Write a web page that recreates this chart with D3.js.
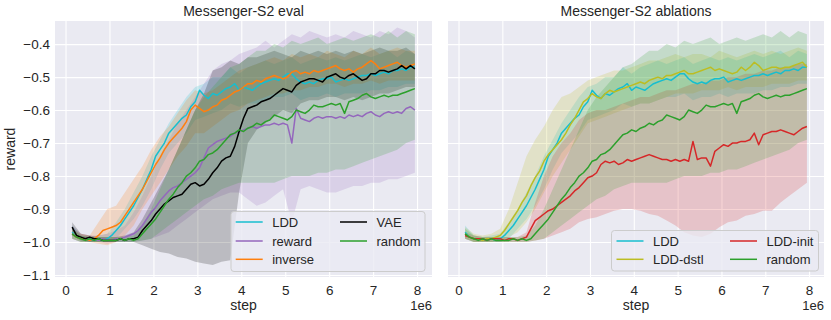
<!DOCTYPE html>
<html lang="en">
<head>
<meta charset="UTF-8">
<title>Messenger-S2</title>
<style>
  body { margin: 0; background: #fff; }
  svg text { font-family: "Liberation Sans", Arial, sans-serif; fill: #262626; }
</style>
</head>
<body>
<svg width="831" height="320"></svg>
<script src="https://d3js.org/d3.v7.min.js"></script>
<script>
// x positions (steps, in 1e6) for mean lines and for the shaded bands
var stepsLine = [0.15,0.25,0.35,0.45,0.55,0.65,0.75,0.85,0.95,1.05,
  1.15,1.25,1.35,1.45,1.55,1.65,1.75,1.85,1.95,2.05,
  2.15,2.25,2.35,2.45,2.55,2.65,2.75,2.85,2.95,3.05,
  3.15,3.25,3.35,3.45,3.55,3.65,3.75,3.85,3.95,4.05,
  4.15,4.25,4.35,4.45,4.55,4.65,4.75,4.85,4.95,5.05,
  5.15,5.25,5.35,5.45,5.55,5.65,5.75,5.85,5.95,6.05,
  6.15,6.25,6.35,6.45,6.55,6.65,6.75,6.85,6.95,7.05,
  7.15,7.25,7.35,7.45,7.55,7.65,7.75,7.85,7.95];
var stepsBand = [0.15,0.35,0.55,0.75,0.95,1.15,1.35,1.55,1.75,1.95,
  2.15,2.35,2.55,2.75,2.95,3.15,3.35,3.55,3.75,3.95,
  4.15,4.35,4.55,4.75,4.95,5.15,5.35,5.55,5.75,5.95,
  6.15,6.35,6.55,6.75,6.95,7.15,7.35,7.55,7.75,7.95];

var xTicks = [0,1,2,3,4,5,6,7,8];
var yTicks = [-1.1,-1.0,-0.9,-0.8,-0.7,-0.6,-0.5,-0.4];

// mean rewards
var lddMean = [-0.97,-0.985,-0.99,-0.99,-0.99,-0.995,-0.99,-0.995,-0.99,-0.98,
  -0.965,-0.95,-0.93,-0.91,-0.89,-0.865,-0.84,-0.81,-0.78,-0.74,
  -0.72,-0.70,-0.67,-0.655,-0.64,-0.625,-0.615,-0.59,-0.575,-0.54,
  -0.555,-0.565,-0.55,-0.555,-0.545,-0.535,-0.53,-0.52,-0.54,-0.53,
  -0.535,-0.54,-0.53,-0.52,-0.515,-0.51,-0.505,-0.51,-0.5,-0.49,
  -0.49,-0.505,-0.515,-0.52,-0.515,-0.52,-0.51,-0.505,-0.505,-0.5,
  -0.515,-0.51,-0.505,-0.51,-0.505,-0.5,-0.495,-0.495,-0.49,-0.495,
  -0.49,-0.485,-0.49,-0.48,-0.48,-0.475,-0.48,-0.47,-0.47];
var rewardMean = [-0.975,-0.985,-0.99,-0.99,-0.995,-0.99,-0.995,-0.99,-0.995,-0.995,
  -0.99,-0.99,-0.985,-0.98,-0.975,-0.965,-0.95,-0.93,-0.91,-0.895,
  -0.875,-0.86,-0.845,-0.835,-0.83,-0.82,-0.81,-0.8,-0.79,-0.775,
  -0.745,-0.715,-0.705,-0.695,-0.69,-0.685,-0.68,-0.67,-0.665,-0.66,
  -0.655,-0.65,-0.655,-0.65,-0.645,-0.645,-0.64,-0.645,-0.64,-0.645,
  -0.7,-0.595,-0.625,-0.63,-0.635,-0.625,-0.62,-0.625,-0.62,-0.62,
  -0.625,-0.62,-0.625,-0.615,-0.62,-0.615,-0.62,-0.61,-0.605,-0.615,
  -0.62,-0.61,-0.605,-0.61,-0.605,-0.61,-0.595,-0.59,-0.6];
var inverseMean = [-0.975,-0.985,-0.99,-0.99,-0.995,-0.99,-0.98,-0.965,-0.96,-0.955,
  -0.95,-0.94,-0.92,-0.9,-0.88,-0.86,-0.84,-0.815,-0.79,-0.765,
  -0.745,-0.72,-0.70,-0.685,-0.67,-0.655,-0.635,-0.6,-0.585,-0.595,
  -0.605,-0.6,-0.59,-0.585,-0.57,-0.565,-0.555,-0.545,-0.54,-0.53,
  -0.52,-0.52,-0.51,-0.515,-0.505,-0.5,-0.495,-0.5,-0.505,-0.5,
  -0.485,-0.48,-0.49,-0.485,-0.49,-0.48,-0.485,-0.48,-0.475,-0.47,
  -0.465,-0.475,-0.48,-0.475,-0.485,-0.475,-0.47,-0.46,-0.45,-0.46,
  -0.475,-0.47,-0.465,-0.46,-0.455,-0.465,-0.47,-0.465,-0.46];
var vaeMean = [-0.955,-0.98,-0.985,-0.99,-0.985,-0.99,-0.99,-0.995,-0.995,-0.995,
  -0.995,-0.99,-0.995,-0.99,-0.99,-0.985,-0.965,-0.95,-0.935,-0.915,
  -0.9,-0.885,-0.875,-0.865,-0.86,-0.855,-0.84,-0.825,-0.82,-0.83,
  -0.825,-0.81,-0.79,-0.775,-0.755,-0.745,-0.74,-0.71,-0.665,-0.625,
  -0.595,-0.59,-0.585,-0.575,-0.57,-0.565,-0.555,-0.545,-0.535,-0.54,
  -0.545,-0.525,-0.515,-0.51,-0.505,-0.505,-0.51,-0.515,-0.5,-0.495,
  -0.49,-0.5,-0.505,-0.495,-0.49,-0.5,-0.51,-0.505,-0.49,-0.49,
  -0.48,-0.48,-0.485,-0.48,-0.475,-0.465,-0.475,-0.465,-0.475];
var randomMean = [-0.975,-0.985,-0.99,-0.995,-0.99,-0.995,-0.99,-0.995,-0.995,-0.995,
  -0.995,-0.99,-0.995,-0.99,-0.995,-0.99,-0.975,-0.96,-0.945,-0.93,
  -0.91,-0.89,-0.87,-0.855,-0.835,-0.82,-0.8,-0.79,-0.775,-0.755,
  -0.75,-0.735,-0.73,-0.72,-0.705,-0.69,-0.675,-0.67,-0.66,-0.665,
  -0.655,-0.65,-0.64,-0.645,-0.635,-0.63,-0.615,-0.62,-0.625,-0.63,
  -0.62,-0.6,-0.605,-0.61,-0.6,-0.585,-0.59,-0.59,-0.585,-0.58,
  -0.585,-0.58,-0.61,-0.575,-0.57,-0.565,-0.555,-0.55,-0.56,-0.565,
  -0.56,-0.555,-0.56,-0.555,-0.555,-0.55,-0.545,-0.54,-0.535];
var dstlMean = [-0.975,-0.985,-0.99,-0.99,-0.995,-0.99,-0.99,-0.985,-0.98,-0.965,
  -0.945,-0.925,-0.905,-0.88,-0.86,-0.83,-0.805,-0.785,-0.755,-0.735,
  -0.72,-0.705,-0.69,-0.67,-0.645,-0.625,-0.6,-0.575,-0.565,-0.55,
  -0.56,-0.565,-0.55,-0.54,-0.545,-0.54,-0.535,-0.53,-0.525,-0.52,
  -0.515,-0.52,-0.51,-0.505,-0.5,-0.505,-0.495,-0.495,-0.49,-0.485,
  -0.48,-0.49,-0.49,-0.485,-0.48,-0.475,-0.47,-0.48,-0.475,-0.48,
  -0.485,-0.49,-0.485,-0.47,-0.48,-0.47,-0.455,-0.465,-0.48,-0.475,
  -0.47,-0.47,-0.475,-0.47,-0.47,-0.465,-0.46,-0.455,-0.47];
var initMean = [-0.98,-0.985,-0.99,-0.99,-0.99,-0.995,-0.99,-0.99,-0.99,-0.995,
  -0.99,-0.99,-0.995,-0.99,-0.985,-0.96,-0.935,-0.925,-0.915,-0.905,
  -0.9,-0.89,-0.88,-0.87,-0.86,-0.845,-0.835,-0.82,-0.805,-0.8,
  -0.79,-0.765,-0.755,-0.76,-0.755,-0.765,-0.76,-0.75,-0.755,-0.75,
  -0.745,-0.74,-0.735,-0.74,-0.745,-0.75,-0.75,-0.755,-0.75,-0.755,
  -0.75,-0.755,-0.695,-0.75,-0.745,-0.745,-0.77,-0.725,-0.715,-0.705,
  -0.71,-0.7,-0.7,-0.695,-0.695,-0.69,-0.67,-0.705,-0.675,-0.67,
  -0.665,-0.665,-0.66,-0.665,-0.67,-0.675,-0.665,-0.655,-0.65];

// band edges (on stepsBand)
var lddHi = [-0.95,-0.98,-0.985,-0.98,-0.975,-0.94,-0.9,-0.85,-0.8,-0.74,
  -0.69,-0.64,-0.6,-0.56,-0.53,-0.52,-0.5,-0.5,-0.47,-0.49,
  -0.47,-0.46,-0.45,-0.46,-0.45,-0.44,-0.46,-0.45,-0.44,-0.45,
  -0.44,-0.45,-0.44,-0.43,-0.44,-0.43,-0.42,-0.44,-0.42,-0.43];
var lddLo = [-0.99,-1.0,-1.0,-1.0,-1.0,-0.99,-0.96,-0.93,-0.89,-0.84,
  -0.78,-0.73,-0.7,-0.67,-0.63,-0.62,-0.61,-0.6,-0.58,-0.59,
  -0.58,-0.58,-0.57,-0.56,-0.56,-0.55,-0.57,-0.56,-0.56,-0.55,
  -0.56,-0.55,-0.55,-0.55,-0.54,-0.54,-0.53,-0.53,-0.52,-0.52];
var rewardHi = [-0.95,-0.975,-0.98,-0.98,-0.975,-0.965,-0.95,-0.91,-0.86,-0.8,
  -0.74,-0.69,-0.64,-0.6,-0.56,-0.52,-0.48,-0.46,-0.45,-0.43,
  -0.42,-0.41,-0.39,-0.41,-0.39,-0.37,-0.38,-0.36,-0.37,-0.38,
  -0.37,-0.38,-0.36,-0.37,-0.38,-0.36,-0.37,-0.35,-0.36,-0.38];
var rewardLo = [-0.99,-1.0,-1.0,-1.0,-1.005,-1.0,-1.0,-1.0,-0.995,-0.99,
  -0.98,-0.97,-0.95,-0.93,-0.91,-0.89,-0.87,-0.86,-0.85,-0.85,
  -0.87,-0.89,-0.88,-0.86,-0.84,-0.94,-0.84,-0.83,-0.84,-0.85,
  -0.85,-0.84,-0.83,-0.83,-0.82,-0.82,-0.81,-0.81,-0.8,-0.79];
var inverseHi = [-0.96,-0.975,-0.98,-0.94,-0.9,-0.89,-0.85,-0.81,-0.77,-0.72,
  -0.68,-0.65,-0.61,-0.57,-0.54,-0.55,-0.54,-0.52,-0.5,-0.48,
  -0.47,-0.46,-0.45,-0.44,-0.45,-0.43,-0.44,-0.43,-0.44,-0.42,
  -0.43,-0.44,-0.42,-0.43,-0.41,-0.43,-0.42,-0.41,-0.42,-0.42];
var inverseLo = [-0.99,-1.0,-1.0,-1.005,-1.01,-1.0,-0.98,-0.95,-0.9,-0.86,
  -0.82,-0.78,-0.74,-0.71,-0.67,-0.67,-0.65,-0.63,-0.61,-0.6,
  -0.58,-0.57,-0.56,-0.55,-0.55,-0.54,-0.54,-0.53,-0.53,-0.52,
  -0.52,-0.53,-0.52,-0.52,-0.51,-0.52,-0.51,-0.51,-0.51,-0.51];
var vaeHi = [-0.94,-0.975,-0.98,-0.985,-0.985,-0.985,-0.98,-0.97,-0.93,-0.88,
  -0.83,-0.78,-0.72,-0.66,-0.6,-0.55,-0.48,-0.47,-0.45,-0.46,
  -0.44,-0.44,-0.43,-0.42,-0.43,-0.44,-0.42,-0.43,-0.42,-0.43,
  -0.42,-0.43,-0.42,-0.43,-0.42,-0.41,-0.42,-0.42,-0.41,-0.43];
var vaeLo = [-0.98,-0.995,-1.0,-1.0,-1.0,-1.0,-1.0,-1.0,-1.01,-1.02,
  -1.03,-1.035,-1.045,-1.05,-1.06,-1.065,-1.07,-1.06,-1.055,-0.85,
  -0.7,-0.66,-0.64,-0.62,-0.6,-0.61,-0.58,-0.57,-0.57,-0.56,
  -0.56,-0.57,-0.56,-0.57,-0.56,-0.55,-0.55,-0.54,-0.53,-0.53];
var randomHi = [-0.96,-0.98,-0.985,-0.985,-0.985,-0.985,-0.985,-0.98,-0.95,-0.9,
  -0.84,-0.78,-0.72,-0.66,-0.6,-0.56,-0.53,-0.5,-0.47,-0.46,
  -0.44,-0.42,-0.42,-0.4,-0.41,-0.39,-0.4,-0.39,-0.38,-0.4,
  -0.39,-0.38,-0.39,-0.38,-0.37,-0.38,-0.36,-0.38,-0.36,-0.37];
var randomLo = [-0.99,-1.0,-1.0,-1.0,-1.0,-1.0,-1.0,-1.0,-0.995,-0.99,
  -0.97,-0.95,-0.93,-0.91,-0.89,-0.87,-0.86,-0.84,-0.83,-0.82,
  -0.82,-0.82,-0.82,-0.82,-0.81,-0.8,-0.8,-0.8,-0.79,-0.79,
  -0.78,-0.78,-0.77,-0.76,-0.75,-0.74,-0.73,-0.72,-0.7,-0.69];
var dstlHi = [-0.955,-0.975,-0.98,-0.975,-0.96,-0.9,-0.82,-0.74,-0.69,-0.65,
  -0.6,-0.56,-0.55,-0.53,-0.51,-0.5,-0.49,-0.48,-0.48,-0.47,
  -0.46,-0.45,-0.45,-0.44,-0.43,-0.44,-0.43,-0.43,-0.44,-0.42,
  -0.43,-0.44,-0.43,-0.42,-0.43,-0.42,-0.43,-0.42,-0.41,-0.42];
var dstlLo = [-0.99,-1.0,-1.0,-1.0,-0.995,-0.985,-0.97,-0.94,-0.9,-0.85,
  -0.8,-0.76,-0.72,-0.68,-0.64,-0.63,-0.62,-0.61,-0.6,-0.59,
  -0.58,-0.58,-0.57,-0.56,-0.55,-0.55,-0.55,-0.54,-0.54,-0.54,
  -0.53,-0.54,-0.53,-0.53,-0.53,-0.52,-0.52,-0.52,-0.51,-0.51];
var initHi = [-0.97,-0.98,-0.985,-0.985,-0.985,-0.985,-0.985,-0.97,-0.88,-0.8,
  -0.74,-0.7,-0.67,-0.63,-0.61,-0.6,-0.6,-0.59,-0.58,-0.57,
  -0.56,-0.56,-0.55,-0.54,-0.54,-0.53,-0.52,-0.52,-0.51,-0.51,
  -0.5,-0.5,-0.49,-0.49,-0.48,-0.48,-0.47,-0.47,-0.46,-0.46];
var initLo = [-0.99,-1.0,-1.0,-1.0,-1.0,-1.0,-1.0,-1.0,-0.995,-0.99,
  -0.98,-0.97,-0.96,-0.94,-0.93,-0.925,-0.915,-0.905,-0.9,-0.9,
  -0.905,-0.915,-0.92,-0.935,-0.95,-0.97,-0.98,-0.985,-0.975,-0.955,
  -0.94,-0.935,-0.92,-0.915,-0.905,-0.905,-0.88,-0.86,-0.84,-0.82];

var evalSeries = [
  { name: "LDD", color: "#17becf", mean: lddMean, hi: lddHi, lo: lddLo },
  { name: "reward", color: "#9467bd", mean: rewardMean, hi: rewardHi, lo: rewardLo },
  { name: "inverse", color: "#ff7f0e", mean: inverseMean, hi: inverseHi, lo: inverseLo },
  { name: "VAE", color: "#000000", mean: vaeMean, hi: vaeHi, lo: vaeLo },
  { name: "random", color: "#2ca02c", mean: randomMean, hi: randomHi, lo: randomLo }
];
var ablationSeries = [
  { name: "LDD", color: "#17becf", mean: lddMean, hi: lddHi, lo: lddLo },
  { name: "LDD-dstl", color: "#bcbd22", mean: dstlMean, hi: dstlHi, lo: dstlLo },
  { name: "LDD-init", color: "#d62728", mean: initMean, hi: initHi, lo: initLo },
  { name: "random", color: "#2ca02c", mean: randomMean, hi: randomHi, lo: randomLo }
];

var svg = d3.select("svg");
var plotTop = 21, plotBottom = 277;

var y = d3.scaleLinear().domain([-1.106, -0.33]).range([plotBottom, plotTop]);

function drawPanel(opt) {
  var x = d3.scaleLinear().domain([-0.24, 8.34]).range([opt.left, opt.right]);
  var g = svg.append("g");

  g.append("rect")
    .attr("x", opt.left).attr("y", plotTop)
    .attr("width", opt.right - opt.left).attr("height", plotBottom - plotTop)
    .attr("fill", "#eaeaf2");

  // grid via axes
  var gx = g.append("g")
    .attr("transform", "translate(0," + plotBottom + ")")
    .call(d3.axisBottom(x).tickValues(xTicks).tickFormat(d3.format("d"))
      .tickSize(-(plotBottom - plotTop)).tickPadding(8));
  var gy = g.append("g")
    .attr("transform", "translate(" + opt.left + ",0)")
    .call(d3.axisLeft(y).tickValues(yTicks).tickFormat(d3.format(".1f"))
      .tickSize(-(opt.right - opt.left)).tickPadding(5));
  [gx, gy].forEach(function (a) {
    a.select(".domain").remove();
    a.selectAll(".tick line").attr("stroke", "#fff").attr("stroke-width", 1.1);
    a.selectAll(".tick text").attr("font-size", 13.5).attr("fill", "#262626")
      .style("font-family", '"Liberation Sans", Arial, sans-serif');
  });
  if (!opt.yLabels) gy.selectAll(".tick text").remove();

  var clipId = "clip-" + opt.id;
  svg.append("clipPath").attr("id", clipId).append("rect")
    .attr("x", opt.left).attr("y", plotTop)
    .attr("width", opt.right - opt.left).attr("height", plotBottom - plotTop);
  var plot = g.append("g").attr("clip-path", "url(#" + clipId + ")");

  var area = d3.area()
    .x(function (d, i) { return x(stepsBand[i]); })
    .y0(function (d) { return y(d[0]); })
    .y1(function (d) { return y(d[1]); });
  var line = d3.line()
    .x(function (d, i) { return x(stepsLine[i]); })
    .y(function (d) { return y(d); });

  opt.series.forEach(function (s) {
    var band = s.lo.map(function (v, i) { return [v, s.hi[i]]; });
    plot.append("path").attr("d", area(band))
      .attr("fill", s.color).attr("fill-opacity", 0.2).attr("stroke", "none");
  });
  opt.series.forEach(function (s) {
    plot.append("path").attr("d", line(s.mean))
      .attr("fill", "none").attr("stroke", s.color).attr("stroke-width", 1.5)
      .attr("stroke-linejoin", "round");
  });

  // titles
  g.append("text").attr("x", (opt.left + opt.right) / 2).attr("y", 16)
    .attr("text-anchor", "middle").attr("font-size", 14).text(opt.title);
  g.append("text").attr("x", (opt.left + opt.right) / 2).attr("y", 310)
    .attr("text-anchor", "middle").attr("font-size", 14).text("step");
  g.append("text").attr("x", opt.right).attr("y", 309.5)
    .attr("text-anchor", "end").attr("font-size", 13).text("1e6");

  // legend
  var L = opt.legend;
  var lg = g.append("g").attr("transform", "translate(" + L.x + "," + L.y + ")");
  lg.append("rect").attr("width", L.w).attr("height", L.h).attr("rx", 3)
    .attr("fill", "#eaeaf2").attr("fill-opacity", 0.8)
    .attr("stroke", "#cccccc").attr("stroke-width", 1);
  opt.series.forEach(function (s, i) {
    var col = Math.floor(i / L.rows), row = i % L.rows;
    var cx = L.cols[col], cy = L.rowY[row];
    lg.append("line").attr("x1", cx).attr("x2", cx + 27)
      .attr("y1", cy).attr("y2", cy)
      .attr("stroke", s.color).attr("stroke-width", 1.5);
    lg.append("text").attr("x", cx + 36.5).attr("y", cy).attr("dy", "0.35em")
      .attr("font-size", 13).text(s.name);
  });
}

drawPanel({
  id: "eval", left: 55, right: 432, title: "Messenger-S2 eval",
  series: evalSeries, yLabels: true,
  legend: { x: 231, y: 211.5, w: 194, h: 60, rows: 3, cols: [4.7, 109], rowY: [10.5, 29.5, 47.8] }
});
drawPanel({
  id: "abl", left: 448, right: 824, title: "Messenger-S2 ablations",
  series: ablationSeries, yLabels: false,
  legend: { x: 611.5, y: 230.5, w: 207, h: 40.5, rows: 2, cols: [5, 118.5], rowY: [10.5, 28.8] }
});

svg.append("text")
  .attr("transform", "translate(15,149) rotate(-90)")
  .attr("text-anchor", "middle").attr("font-size", 14).text("reward");
</script>
</body>
</html>
